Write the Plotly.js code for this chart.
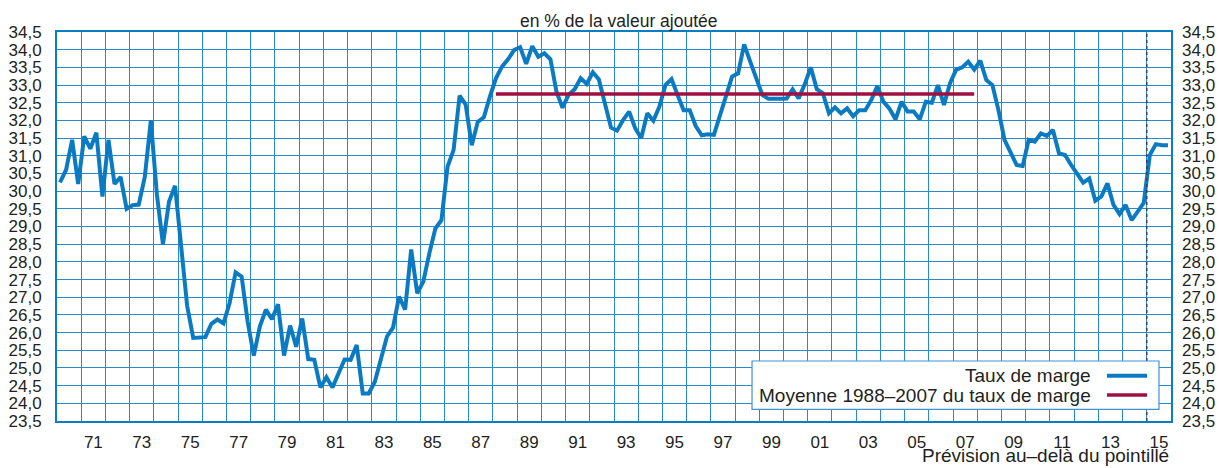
<!DOCTYPE html>
<html>
<head>
<meta charset="utf-8">
<script src="https://cdn.plot.ly/plotly-3.0.1.min.js"></script>
<style>
html,body{margin:0;padding:0;background:#fff;}
#chart{width:1219px;height:468px;}
</style>
</head>
<body>
<div id="chart"></div>
<script>
// ---- Data (quarterly, 1970Q1 - 2015Q4), en % de la valeur ajoutée ----
const startYear = 1970;
const taux1970s = [
  30.25, 30.6, 31.45, 30.2,
  31.55, 31.2, 31.65, 29.85,
  31.45, 30.2, 30.4, 29.5,
  29.6, 29.62, 30.4, 32.0,
  29.9, 28.5, 29.7, 30.15,
  28.45, 26.75, 25.85, 25.85,
  25.87, 26.25, 26.37, 26.26,
  26.83, 27.7, 27.58, 26.3,
  25.35, 26.17, 26.65, 26.38,
  26.8, 25.35, 26.2, 25.6
];
const taux1980s = [
  26.4, 25.25, 25.23, 24.45,
  24.74, 24.45, 24.85, 25.24,
  25.23, 25.65, 24.28, 24.28,
  24.61, 25.23, 25.89, 26.14,
  27.02, 26.65, 28.35, 27.11,
  27.44, 28.24, 28.95, 29.18,
  30.69, 31.16, 32.7, 32.45,
  31.3, 31.96, 32.09, 32.67,
  33.19, 33.52, 33.73, 33.99,
  34.07, 33.6, 34.1, 33.8
];
const taux1990s = [
  33.9, 33.73, 32.81, 32.36,
  32.72, 32.88, 33.19, 33.03,
  33.36, 33.16, 32.44, 31.8,
  31.71, 32.01, 32.25, 31.78,
  31.5, 32.2, 31.99, 32.39,
  33.0, 33.17, 32.72, 32.29,
  32.29, 31.84, 31.58, 31.61,
  31.59, 32.15, 32.67, 33.24,
  33.33, 34.15, 33.66, 33.19,
  32.72, 32.61, 32.6, 32.61
];
const taux2000s = [
  32.62, 32.88, 32.62, 33.02,
  33.5, 32.88, 32.77, 32.2,
  32.37, 32.2, 32.34, 32.12,
  32.29, 32.29, 32.58, 32.97,
  32.53, 32.33, 32.03, 32.53,
  32.25, 32.25, 32.03, 32.53,
  32.5, 33.0, 32.44, 33.05,
  33.43, 33.5, 33.66, 33.44,
  33.69, 33.14, 33.0, 32.29,
  31.45, 31.07, 30.74, 30.71
];
const taux2010s = [
  31.45, 31.4, 31.63, 31.56,
  31.73, 31.07, 31.02, 30.74,
  30.5, 30.24, 30.36, 29.73,
  29.85, 30.22, 29.61, 29.35,
  29.61, 29.18, 29.42, 29.67,
  31.02, 31.33, 31.3, 31.3
];
const moyenneValue = 32.75;            // moyenne 1988-2007
const moyenneStart = 1988;
const moyenneEnd = 2007;
const forecastStart = 2015;            // pointillé
const xTickYears = [1971,1973,1975,1977,1979,1981,1983,1985,1987,1989,1991,1993,1995,1997,1999,2001,2003,2005,2007,2009,2011,2013,2015];
const xTickLabels = ['71','73','75','77','79','81','83','85','87','89','91','93','95','97','99','01','03','05','07','09','11','13','15'];
const seriesNames = ['Taux de marge', 'Moyenne 1988–2007 du taux de marge'];
const subtitle = 'en % de la valeur ajoutée';
const note = 'Prévision au–delà du pointillé';

// ---- Build ----
const taux = [].concat(taux1970s, taux1980s, taux1990s, taux2000s, taux2010s);
const quarterX = taux.map((v, i) => startYear + (i + 0.5) / 4);
const moyX = [moyenneStart + 0.125, moyenneEnd + 0.875];
const moyY = [moyenneValue, moyenneValue];

const BLUE = '#0a7bc2';
const RED = '#9e1040';
const GRID = '#2a89c9';
const FRAME = '#0a7dc3';
const TXT = '#231f20';
const FONT = 'Liberation Sans, Arial, Helvetica, sans-serif';

const traces = [
  {x: quarterX, y: taux, type: 'scatter', mode: 'lines', name: seriesNames[0],
   line: {color: BLUE, width: 4}, xaxis: 'x', yaxis: 'y'},
  {x: moyX, y: moyY, type: 'scatter', mode: 'lines', name: seriesNames[1],
   line: {color: RED, width: 3.5}, xaxis: 'x', yaxis: 'y2'}
];

const yCommon = {
  range: [23.5, 34.5], tickmode: 'linear', tick0: 23.5, dtick: 0.5,
  tickformat: '.1f', ticks: '', zeroline: false, fixedrange: true,
  tickfont: {family: FONT, size: 17, color: TXT}, ticklabelstandoff: 10
};

const legendTop = 0.1542, legendBottom = 0.030;
const row1 = 0.1165, row2 = 0.0668;

const layout = {
  width: 1219, height: 468,
  margin: {l: 57, r: 48, t: 32, b: 47, pad: 0},
  paper_bgcolor: '#ffffff', plot_bgcolor: '#ffffff',
  separators: ', ',
  font: {family: FONT, color: TXT, size: 17},
  showlegend: false,
  hovermode: false,
  title: {text: subtitle, x: 0.5043, xref: 'paper', xanchor: 'center',
          y: 1 - 21/468, yref: 'container', yanchor: 'middle',
          font: {family: FONT, size: 17.5, color: TXT}},
  xaxis: {
    range: [1970, 2016], tickmode: 'array',
    tickvals: xTickYears.map(y => y + 0.5), ticktext: xTickLabels,
    showgrid: false, zeroline: false, ticks: '',
    showline: true, mirror: true, linecolor: FRAME, linewidth: 2,
    tickfont: {family: FONT, size: 17, color: TXT}, ticklabelstandoff: 5,
    minor: {tickmode: 'linear', tick0: 1970, dtick: 1, showgrid: true,
            gridcolor: GRID, gridwidth: 1, ticks: ''},
    fixedrange: true
  },
  yaxis: Object.assign({}, yCommon, {
    side: 'left', showgrid: true, gridcolor: GRID, gridwidth: 1,
    showline: true, mirror: true, linecolor: FRAME, linewidth: 2
  }),
  yaxis2: Object.assign({}, yCommon, {
    side: 'right', overlaying: 'y', anchor: 'x', showgrid: false, showline: false
  }),
  shapes: [
    {type: 'line', xref: 'x', yref: 'paper', x0: forecastStart, x1: forecastStart, y0: 0, y1: 1,
     line: {color: '#3b3f5a', width: 1.5, dash: '3px,3px'}, layer: 'above'},
    {type: 'rect', xref: 'paper', yref: 'paper', x0: 0.6239, x1: 0.9892, y0: legendBottom, y1: legendTop,
     fillcolor: '#ffffff', line: {color: '#3f93d2', width: 1.2}, layer: 'above'},
    {type: 'line', xref: 'paper', yref: 'paper', x0: 0.9425, x1: 0.9785, y0: row1, y1: row1,
     line: {color: BLUE, width: 4}, layer: 'above'},
    {type: 'line', xref: 'paper', yref: 'paper', x0: 0.9425, x1: 0.9785, y0: row2, y1: row2,
     line: {color: RED, width: 3.5}, layer: 'above'}
  ],
  annotations: [
    {text: seriesNames[0], xref: 'paper', yref: 'paper', x: 0.930, y: row1,
     xanchor: 'right', yanchor: 'middle', showarrow: false,
     font: {family: FONT, size: 19, color: TXT}},
    {text: seriesNames[1], xref: 'paper', yref: 'paper', x: 0.930, y: row2,
     xanchor: 'right', yanchor: 'middle', showarrow: false,
     font: {family: FONT, size: 19, color: TXT}},
    {text: note, xref: 'paper', yref: 'paper', x: 1.0, y: -0.088,
     xanchor: 'right', yanchor: 'middle', showarrow: false,
     font: {family: FONT, size: 19, color: TXT}}
  ]
};

Plotly.newPlot('chart', traces, layout, {displayModeBar: false, staticPlot: true});
</script>
</body>
</html>
